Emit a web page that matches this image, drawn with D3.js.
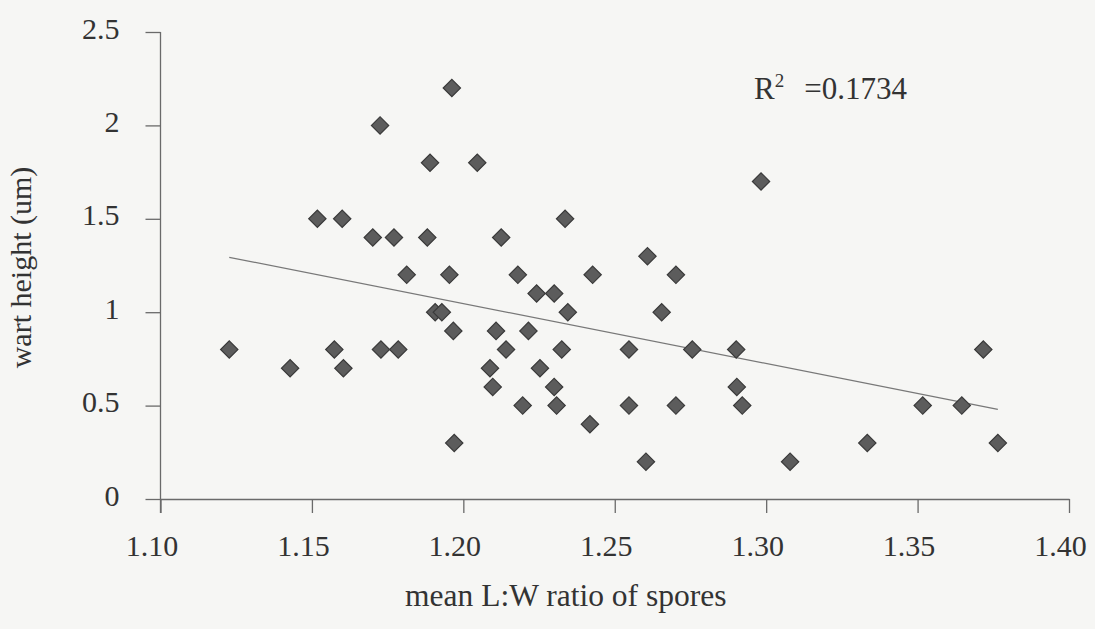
<!DOCTYPE html>
<html>
<head>
<meta charset="utf-8">
<script src="https://cdn.jsdelivr.net/npm/d3@7"></script>
<style>
  body { margin: 0; background: #f6f6f4; }
  svg { display: block; font-family: "Liberation Serif", "Times New Roman", serif; }
  .axis path, .axis line { stroke: #6a6a6a; stroke-width: 1.3; }
  .axis text { fill: #333; font-size: 30px; font-family: "Liberation Serif", serif; }
  .axis-label { fill: #333; font-size: 30px; }
</style>
</head>
<body>
<div id="chart"></div>
<script>
// L:W ratio of spores (x) vs wart height in um (y)
const lwRatio = [
  1.1227, 1.1428, 1.1518, 1.1574, 1.1600, 1.1604, 1.1701, 1.1725, 1.1728, 1.1771,
  1.1785, 1.1813, 1.1881, 1.1890, 1.1907, 1.1929, 1.1954, 1.1962, 1.1967, 1.1970,
  1.2046, 1.2088, 1.2097, 1.2108, 1.2125, 1.2141, 1.2180, 1.2196, 1.2215, 1.2242,
  1.2253, 1.2300, 1.2300, 1.2308, 1.2325, 1.2336, 1.2345, 1.2418, 1.2427, 1.2547,
  1.2547, 1.2603, 1.2608, 1.2655, 1.2702, 1.2702, 1.2756, 1.2901, 1.2903, 1.2921,
  1.2983, 1.3079, 1.3334, 1.3517, 1.3646, 1.3717, 1.3765
];
const wartHeight = [
  0.8, 0.7, 1.5, 0.8, 1.5, 0.7, 1.4, 2.0, 0.8, 1.4,
  0.8, 1.2, 1.4, 1.8, 1.0, 1.0, 1.2, 2.2, 0.9, 0.3,
  1.8, 0.7, 0.6, 0.9, 1.4, 0.8, 1.2, 0.5, 0.9, 1.1,
  0.7, 1.1, 0.6, 0.5, 0.8, 1.5, 1.0, 0.4, 1.2, 0.8,
  0.5, 0.2, 1.3, 1.0, 1.2, 0.5, 0.8, 0.8, 0.6, 0.5,
  1.7, 0.2, 0.3, 0.5, 0.5, 0.8, 0.3
];
// linear trend line end points
const trendX = [1.1227, 1.3765];
const trendY = [1.294, 0.48];

const xTicks = [1.10, 1.15, 1.20, 1.25, 1.30, 1.35, 1.40];
const yTicks = [0, 0.5, 1, 1.5, 2, 2.5];
const r2Text = "0.1734";

const config = {
  containerWidth: 1095,
  containerHeight: 629,
  margin: { top: 32, right: 26, bottom: 130, left: 160.5 }
};
const width = config.containerWidth - config.margin.left - config.margin.right;
const height = config.containerHeight - config.margin.top - config.margin.bottom;

const data = lwRatio.map((x, i) => ({ x: x, y: wartHeight[i] }));

const svg = d3.select("#chart")
  .append("svg")
  .attr("width", config.containerWidth)
  .attr("height", config.containerHeight);

svg.append("rect")
  .attr("width", config.containerWidth)
  .attr("height", config.containerHeight)
  .attr("fill", "#f6f6f4");

const chart = svg.append("g")
  .attr("transform", `translate(${config.margin.left},${config.margin.top})`);

const xScale = d3.scaleLinear().domain([1.10, 1.40]).range([0, width]);
const yScale = d3.scaleLinear().domain([0, 2.5]).range([height, 0]);

// axes
const xAxis = d3.axisBottom(xScale)
  .tickValues(xTicks)
  .tickFormat(d3.format(".2f"))
  .tickSizeInner(14)
  .tickSizeOuter(0)
  .tickPadding(22);

const yAxis = d3.axisLeft(yScale)
  .tickValues(yTicks)
  .tickFormat(d => String(d))
  .tickSizeInner(15)
  .tickSizeOuter(0)
  .tickPadding(26);

const xAxisG = chart.append("g")
  .attr("class", "axis x-axis")
  .attr("transform", `translate(0,${height})`)
  .call(xAxis);
xAxisG.selectAll("text").attr("dx", -9);

const yAxisG = chart.append("g")
  .attr("class", "axis y-axis")
  .call(yAxis);
yAxisG.selectAll("text").attr("dy", "0.2em");

// extend y axis line down past the x axis
yAxisG.select(".domain").attr("d", `M0,0V${height + 14}`);

// axis labels
chart.append("text")
  .attr("class", "axis-label")
  .attr("x", width / 2 - 49)
  .attr("y", height + 107)
  .attr("text-anchor", "middle")
  .style("font-size", "31.5px")
  .text("mean L:W ratio of spores");

chart.append("text")
  .attr("class", "axis-label")
  .attr("transform", "rotate(-90)")
  .attr("x", -height / 2 - 2)
  .attr("y", -130)
  .attr("text-anchor", "middle")
  .text("wart height (um)");

// trend line
chart.append("line")
  .attr("x1", xScale(trendX[0]))
  .attr("y1", yScale(trendY[0]))
  .attr("x2", xScale(trendX[1]))
  .attr("y2", yScale(trendY[1]))
  .attr("stroke", "#787878")
  .attr("stroke-width", 1.3);

// diamond markers
const diamond = d3.symbol().type(d3.symbolSquare).size(150);
chart.selectAll(".point")
  .data(data)
  .join("path")
  .attr("class", "point")
  .attr("d", diamond)
  .attr("transform", d => `translate(${xScale(d.x)},${yScale(d.y)}) rotate(45)`)
  .attr("fill", "#5c5c5c")
  .attr("stroke", "#3a3a3a")
  .attr("stroke-width", 1.2);

// R squared annotation
const r2 = svg.append("text")
  .attr("x", 754)
  .attr("y", 99)
  .attr("fill", "#333")
  .attr("font-size", 31);
r2.append("tspan").text("R");
r2.append("tspan").attr("dy", -12).attr("font-size", 19).text("2");
r2.append("tspan").attr("dy", 12).attr("dx", 20).text("=" + r2Text);
</script>
</body>
</html>
